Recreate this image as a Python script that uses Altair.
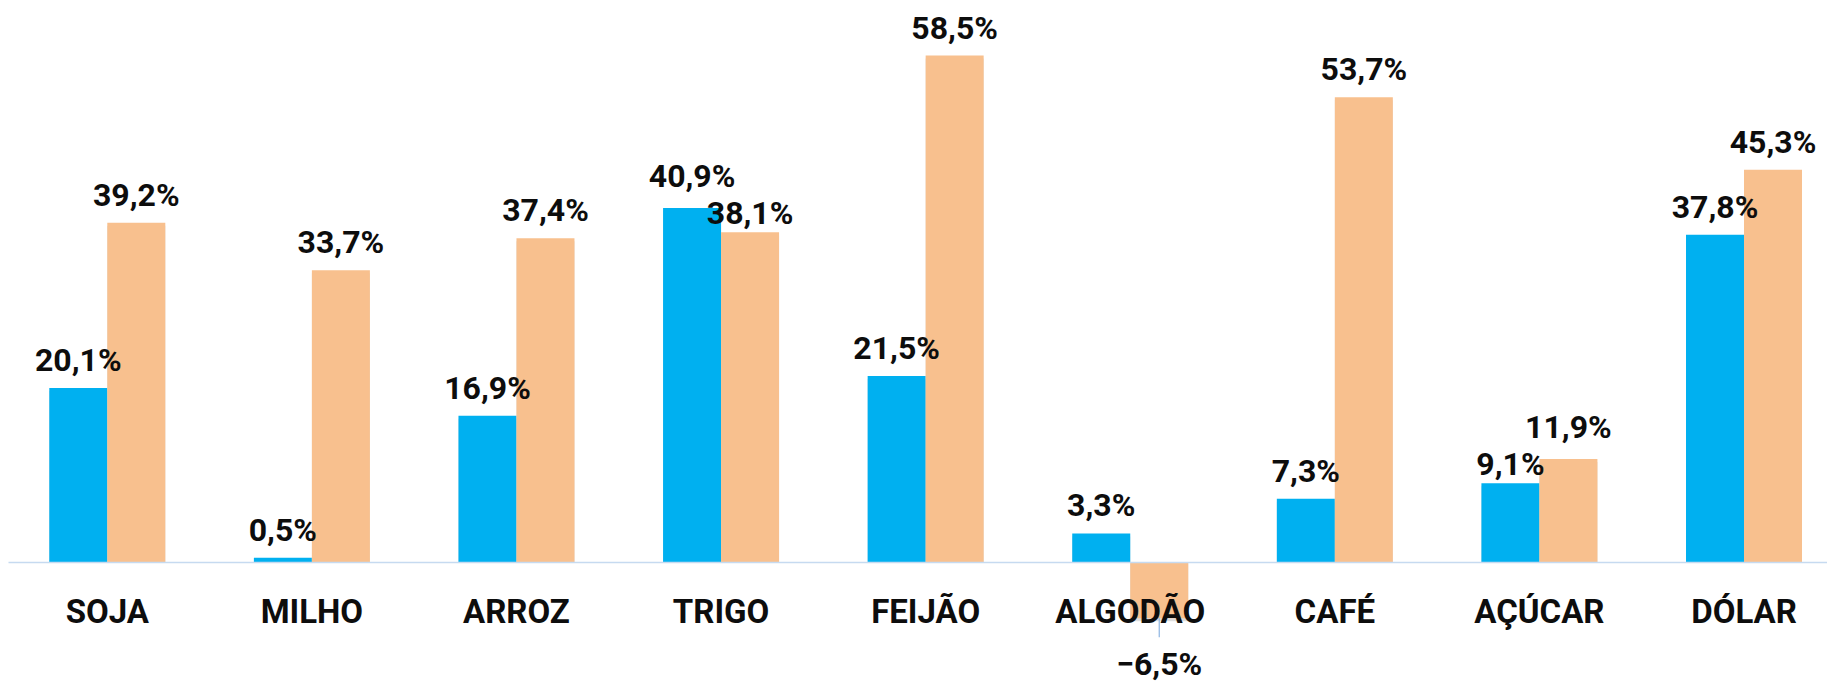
import altair as alt
import pandas as pd

# ---- dados ----
categorias = ["SOJA", "MILHO", "ARROZ", "TRIGO", "FEIJÃO", "ALGODÃO", "CAFÉ", "AÇÚCAR", "DÓLAR"]
series = ["Período 1", "Período 2"]
serie_1 = [20.1, 0.5, 16.9, 40.9, 21.5, 3.3, 7.3, 9.1, 37.8]
serie_2 = [39.2, 33.7, 37.4, 38.1, 58.5, -6.5, 53.7, 11.9, 45.3]
cores = ["#00B0F0", "#F8C08E"]

rows = []
for c, a, b in zip(categorias, serie_1, serie_2):
    rows.append({"categoria": c, "serie": series[0], "valor": a})
    rows.append({"categoria": c, "serie": series[1], "valor": b})
df = pd.DataFrame(rows)

FONT = "Roboto"
TXT = "#0D0D0D"
PESO = "bold"

x = alt.X(
    "categoria:N",
    sort=categorias,
    scale=alt.Scale(paddingInner=0.433, paddingOuter=0.162, align=0.623),
    axis=alt.Axis(
        title=None,
        labelAngle=0,
        ticks=False,
        tickSize=0,
        grid=False,
        labelPadding=34,
        labelFont=FONT,
        labelFontSize=33,
        labelFontWeight=PESO,
        labelColor=TXT,
        domainColor="#C6DAF0",
        domainWidth=1.5,
        zindex=1,
    ),
)
xo = alt.XOffset("serie:N", sort=series, scale=alt.Scale(paddingInner=0, paddingOuter=0))
y = alt.Y("valor:Q", scale=alt.Scale(domain=[0, 64], nice=False, zero=False), axis=None)
cor = alt.Color("serie:N", sort=series, scale=alt.Scale(domain=series, range=cores), legend=None)

base = alt.Chart(df)

sombra = base.mark_bar(color="#000000", opacity=0.13, yOffset=3).encode(x=x, xOffset=xo, y=y, y2=alt.datum(0))
barras = base.mark_bar().encode(x=x, xOffset=xo, y=y, y2=alt.datum(0), color=cor)

rotulo_expr = "replace(format(datum.valor, '.1f'), '.', ',') + '%'"

# rótulos: quando as duas barras de uma categoria têm alturas próximas,
# o rótulo mais alto sobe um pouco e o mais baixo desce, para não se sobreporem
rotulos = (
    base.transform_joinaggregate(vmax="max(valor)", vmin="min(valor)", groupby=["categoria"])
    .transform_calculate(
        rotulo=rotulo_expr,
        posicao="datum.valor < 0 ? 'neg' : ((datum.vmax - datum.vmin) < 4 ? (datum.valor == datum.vmax ? 'alto' : 'baixo') : 'normal')",
    )
)


def camada(pos, dy):
    return (
        rotulos.transform_filter(f"datum.posicao == '{pos}'")
        .mark_text(dy=dy, baseline="alphabetic", font=FONT, fontSize=32, fontWeight=PESO, color=TXT)
        .encode(x=x, xOffset=xo, y=y, text="rotulo:N")
    )


rot_normal = camada("normal", -17)
rot_alto = camada("alto", -21)
rot_baixo = camada("baixo", -8)
rot_neg = camada("neg", 57)

guia = (
    base.transform_filter("datum.valor < 0")
    .mark_rule(color="#8DB4E2", strokeWidth=1.2, y2Offset=19)
    .encode(x=x, xOffset=xo, y=y, y2=alt.Y2("valor:Q"))
)

chart = (
    alt.layer(sombra, barras, guia, rot_normal, rot_alto, rot_baixo, rot_neg)
    .properties(width=1819, height=554, padding=0, background="white")
    .configure_view(strokeWidth=0)
)

chart.save("out.html", embed_options={"renderer": "svg", "actions": False})
